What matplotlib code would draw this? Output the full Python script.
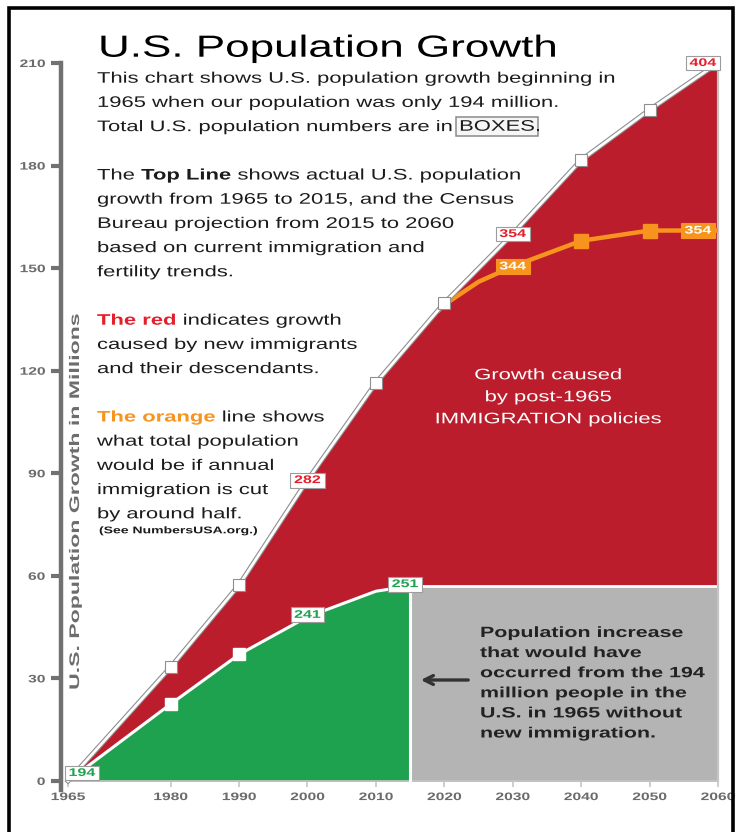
import matplotlib.pyplot as plt
from matplotlib.patches import Rectangle
from matplotlib.patheffects import AbstractPathEffect
from matplotlib.transforms import Affine2D

plt.rcParams['font.family'] = ['Liberation Sans', 'DejaVu Sans']

# growth in millions above the 194 million of 1965
top_years = [1965, 1980, 1990, 2000, 2010, 2020, 2030, 2040, 2050, 2060]
top_growth = [0, 33.3, 57.3, 88, 116.4, 139.8, 160, 181.6, 196.3, 210]
top_boxes = {2000: '282', 2030: '354', 2060: '404'}
top_marked = [1980, 1990, 2010, 2020, 2040, 2050]

# growth from the 1965 people alone (no new immigration), flat after 2015
native_years = [1965, 1980, 1990, 2000, 2010, 2015]
native_growth = [0, 22.5, 37, 48, 55.5, 57]
flat_years = [2015, 2060]
flat_growth = [57, 57]
native_boxes = {1965: '194', 2000: '241', 2015: '251'}
native_marked = [1980, 1990]

# projection if annual immigration is cut by about half
half_years = [2019, 2020, 2025, 2030, 2040, 2050, 2060]
half_growth = [137.3, 139.3, 146, 150.5, 158, 161, 161]
half_boxes = {2030: '344', 2060: '354'}
half_marked = [2040, 2050]

x_ticks = [1965, 1980, 1990, 2000, 2010, 2020, 2030, 2040, 2050, 2060]
y_ticks = [0, 30, 60, 90, 120, 150, 180, 210]

RED = '#BB1D2D'
RED_TXT = '#E41E2B'
GREEN = '#1FA24F'
GREY = '#B4B4B4'
ORANGE = '#F7941D'
AXIS = '#717171'
INK = '#1b1b1b'
SX = 1.44  # the original artwork is wider than it is tall


class Stretch(AbstractPathEffect):
    # widen glyphs / boxes horizontally around their left edge, centre or right edge
    def __init__(self, sx=SX, about='left'):
        super().__init__()
        self.sx = sx
        self.about = about

    def draw_path(self, renderer, gc, tpath, affine, rgbFace=None):
        x0 = 0
        if self.about != 'left' and len(tpath.vertices):
            ext = tpath.get_extents()
            x0 = ext.x1 if self.about == 'right' else (ext.x0 + ext.x1) / 2
        st = Affine2D().translate(-x0, 0).scale(self.sx, 1).translate(x0, 0)
        renderer.draw_path(gc, tpath, st + affine, rgbFace)


W, H = 739, 832
fig = plt.figure(figsize=(W / 100, H / 100), dpi=100)
renderer = fig.canvas.get_renderer()
ax = fig.add_axes([61.2 / W, (H - 789.5) / H, 660.2 / W, 729.9 / H])
ax.set_xlim(1964, 2060.5)
ax.set_ylim(-2.5, 211)
ax.patch.set_visible(False)

# areas
ax.fill_between(top_years, 0, top_growth, color=RED, lw=0, zorder=1)
ax.fill_between(native_years, 0, native_growth, color=GREEN, lw=0, zorder=2)
ax.fill_between(flat_years, 0, flat_growth, color=GREY, lw=0, zorder=2)
ax.plot(native_years, native_growth, color='white', lw=2.2, zorder=3)
ax.plot(flat_years, flat_growth, color='white', lw=2, zorder=3)
ax.plot([flat_years[0]] * 2, [0, flat_growth[0]], color='white', lw=2.2, zorder=3)
ax.plot([top_years[-1]] * 2, [0, top_growth[-1]], color='#c4c4c4', lw=1.6, zorder=3)

# orange projection, under the top line where they meet
ax.plot(half_years, half_growth, color=ORANGE, lw=3.2, zorder=4, solid_capstyle='butt')
half = dict(zip(half_years, half_growth))
ax.plot(half_marked, [half[y] for y in half_marked], 's', ms=9.5, color=ORANGE, zorder=4)

# top line
ax.plot(top_years, top_growth, color='#8f8f8f', lw=3.6, zorder=5)
ax.plot(top_years, top_growth, color='white', lw=2.0, zorder=5)
top = dict(zip(top_years, top_growth))
ax.plot(top_marked, [top[y] for y in top_marked], 's', ms=9, mfc='white',
        mec='#8f8f8f', mew=0.8, zorder=5)
native = dict(zip(native_years, native_growth))
ax.plot(native_marked, [native[y] for y in native_marked], 's', ms=8.5,
        mfc='white', mec='white', zorder=3)


def box(x, y, s, fg, bg='white', ec='#9c9c9c', dx=0, dy=0):
    t = ax.annotate(s, (x, y), xytext=(dx, dy), textcoords='offset pixels',
                    ha='center', va='center', fontsize=8, fontweight='bold',
                    color=fg, zorder=6,
                    bbox=dict(boxstyle='square,pad=0.22', fc=bg, ec=ec, lw=0.8))
    t.set_path_effects([Stretch(about='center')])
    t.get_bbox_patch().set_path_effects([Stretch(about='center')])


box(2000, top[2000], top_boxes[2000], RED_TXT)
box(2030, top[2030], top_boxes[2030], RED_TXT)
box(2060, top[2060], top_boxes[2060], RED_TXT, dx=-15)
box(1965, native[1965], native_boxes[1965], GREEN, dx=14, dy=8)
box(2000, native[2000], native_boxes[2000], GREEN, dy=2)
box(2015, native[2015], native_boxes[2015], GREEN, dx=-5, dy=2)
box(2030, half[2030], half_boxes[2030], 'white', bg=ORANGE, ec=ORANGE)
box(2060, half[2060], half_boxes[2060], 'white', bg=ORANGE, ec=ORANGE, dx=-20)

# axes styling
for side in ['top', 'right']:
    ax.spines[side].set_visible(False)
ax.spines['left'].set_bounds(-2.5, 210)
ax.spines['left'].set_linewidth(3.2)
ax.spines['left'].set_color(AXIS)
ax.spines['bottom'].set_position(('data', 0))
ax.spines['bottom'].set_bounds(1965, 2060)
ax.spines['bottom'].set_color('#c6c6c6')
ax.spines['bottom'].set_linewidth(1.2)
ax.set_xticks(x_ticks)
ax.set_yticks(y_ticks)
ax.tick_params(axis='y', direction='out', length=7, width=3, color=AXIS, pad=4.5,
               labelsize=7.8, labelcolor='#6b6b6b')
ax.tick_params(axis='x', direction='out', length=4, width=1.2, color='#c6c6c6', pad=4,
               labelsize=7.8, labelcolor='#6b6b6b')
for lab in ax.get_yticklabels():
    lab.set_fontweight('bold')
    lab.set_path_effects([Stretch(about='right')])
for lab in ax.get_xticklabels():
    lab.set_fontweight('bold')
    lab.set_path_effects([Stretch(about='center')])

ax.set_ylabel('U.S. Population Growth in Millions', fontsize=10, fontweight='bold',
              color='#6d6d6d', va='center')
ax.yaxis.set_label_coords((75 - 61.2) / 660.2, (789.5 - 501.5) / 729.9)
ax.yaxis.label.set_path_effects([Stretch(1.66, 'center')])


# texts, positions in pixels from the top-left corner
def put(x, y, s, size=11, weight='normal', color=INK, ha='left', about='left', **kw):
    t = fig.text(x / W, 1 - y / H, s, fontsize=size, fontweight=weight, color=color,
                 ha=ha, va='baseline', **kw)
    t.set_path_effects([Stretch(about=about)])
    return t


def put_line(x, y, pieces, size=11):
    for s, weight, color in pieces:
        t = put(x, y, s, size, weight, color)
        x += (t.get_window_extent(renderer).width + 0.28 * size * 100 / 72) * SX


put(98, 56.7, 'U.S. Population Growth', size=22, color='black')

intro = [
    [('This chart shows U.S. population growth beginning in', 'normal', INK)],
    [('1965 when our population was only 194 million.', 'normal', INK)],
    [('Total U.S. population numbers are in', 'normal', INK)],
    [],
    [('The', 'normal', INK), ('Top Line', 'bold', INK), ('shows actual U.S. population', 'normal', INK)],
    [('growth from 1965 to 2015, and the Census', 'normal', INK)],
    [('Bureau projection from 2015 to 2060', 'normal', INK)],
    [('based on current immigration and', 'normal', INK)],
    [('fertility trends.', 'normal', INK)],
    [],
    [('The red', 'bold', RED_TXT), ('indicates growth', 'normal', INK)],
    [('caused by new immigrants', 'normal', INK)],
    [('and their descendants.', 'normal', INK)],
    [],
    [('The orange', 'bold', ORANGE), ('line shows', 'normal', INK)],
    [('what total population', 'normal', INK)],
    [('would be if annual', 'normal', INK)],
    [('immigration is cut', 'normal', INK)],
    [('by around half.', 'normal', INK)],
]
for i, pieces in enumerate(intro):
    put_line(97, 82.7 + 24.2 * i, pieces)

b = put(497, 130.7, 'BOXES', ha='center', about='center',
        bbox=dict(boxstyle='square,pad=0.15', fc='#f6f6f6', ec='#8a8a8a', lw=1.1))
b.get_bbox_patch().set_path_effects([Stretch(about='center')])
put(535, 130.7, '.')
put(99, 533.3, '(See NumbersUSA.org.)', size=7, weight='bold')

red_note = ['Growth caused', 'by post-1965', 'IMMIGRATION policies']
for i, s in enumerate(red_note):
    put(548, 379.3 + 22 * i, s, color='white', ha='center', about='center')

grey_note = ['Population increase', 'that would have', 'occurred from the 194',
             'million people in the', 'U.S. in 1965 without', 'new immigration.']
for i, s in enumerate(grey_note):
    put(480, 637 + 20.1 * i, s, size=10.7, weight='bold', color='#222222')

ax.annotate('', xy=(418, H - 680), xycoords='figure pixels',
            xytext=(471, H - 680), textcoords='figure pixels',
            arrowprops=dict(arrowstyle='->', color='#333333', lw=2.4, mutation_scale=16),
            zorder=6)

fig.add_artist(Rectangle((8.5 / W, -0.02), (732.5 - 8.5) / W, 1.02 - 8 / H,
                         transform=fig.transFigure, fill=False, ec='black', lw=2.6))

fig.savefig('out.png', dpi=100)
